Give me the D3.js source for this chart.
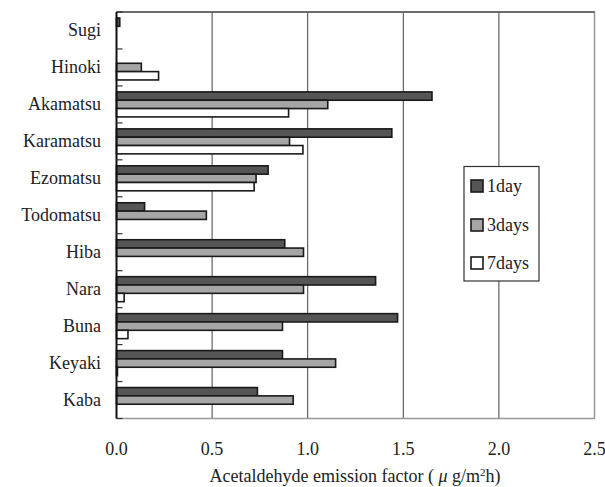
<!DOCTYPE html>
<html>
<head>
<meta charset="utf-8">
<script src="https://cdn.jsdelivr.net/npm/d3@7"></script>
<style>
body{margin:0;background:#fff;}
</style>
</head>
<body>
<div id="chart"></div>
<script>
let species = ['Sugi','Hinoki','Akamatsu','Karamatsu','Ezomatsu','Todomatsu','Hiba','Nara','Buna','Keyaki','Kaba'],
series = ['1day','3days','7days'],
day1 = [0.017, 0, 1.65, 1.44, 0.793, 0.147, 0.88, 1.355, 1.47, 0.868, 0.737],
day3 = [0, 0.13, 1.105, 0.905, 0.73, 0.47, 0.978, 0.978, 0.868, 1.146, 0.924],
day7 = [0, 0.22, 0.90, 0.975, 0.72, 0, 0, 0.04, 0.06, 0.005, 0],
xticks = [0, 0.5, 1.0, 1.5, 2.0, 2.5],
colors = ['#555555','#a6a6a6','#ffffff'];

let W = 605, H = 487,
mleft = 116.5, mright = 594.5, mtop = 12, mbottom = 418.5;

let svg = d3.select('#chart').append('svg').attr('width', W).attr('height', H)
.attr('font-family', 'Liberation Serif, Times New Roman, Tinos, DejaVu Serif, Noto Serif, serif');

let x = d3.scaleLinear().domain([0, 2.5]).range([mleft, mright]);
let y = d3.scaleBand().domain(species).range([mtop, mbottom]);
let yi = d3.scaleBand().domain(series).range([6, 31]);

let values = [day1, day3, day7];

//vertical grid lines
svg.append('g').selectAll('line').data(xticks.slice(1, -1)).enter().append('line')
.attr('x1', d=>x(d)).attr('x2', d=>x(d))
.attr('y1', mtop).attr('y2', mbottom)
.style('stroke', '#444').style('stroke-width', 1);

//frame: top, right, bottom
svg.append('path')
.attr('d', `M${mleft},${mtop}H${mright}V${mbottom}H${mleft}`)
.style('fill', 'none').style('stroke', '#999').style('stroke-width', 1.5);
svg.append('line').attr('x1', mleft).attr('x2', mright).attr('y1', mtop).attr('y2', mtop)
.style('stroke', '#555').style('stroke-width', 1.5);

//bars
series.forEach((s, k)=>{
	let rows = species.map((d, i)=>({name: d, v: values[k][i]})).filter(d=>d.v > 0);
	svg.append('g').selectAll('rect').data(rows).enter()
	.append('rect')
	.attr('x', x(0))
	.attr('y', d=>y(d.name) + yi(s))
	.attr('width', d=>x(d.v) - x(0))
	.attr('height', yi.bandwidth())
	.style('fill', colors[k])
	.style('stroke', '#1a1a1a')
	.style('stroke-width', 1.6);
});

//left axis with inner ticks
let yaxis = svg.append('g');
yaxis.append('line').attr('x1', mleft).attr('x2', mleft).attr('y1', mtop).attr('y2', mbottom)
.style('stroke', '#111').style('stroke-width', 2);
yaxis.selectAll('.tk').data(d3.range(species.length + 1)).enter().append('line')
.attr('x1', mleft).attr('x2', mleft + 6)
.attr('y1', i=>mtop + i * y.step()).attr('y2', i=>mtop + i * y.step())
.style('stroke', '#333').style('stroke-width', 1.2);
yaxis.selectAll('.lbl').data(species).enter().append('text')
.attr('x', 101)
.attr('y', d=>y(d) + y.bandwidth() / 2)
.attr('text-anchor', 'end')
.attr('dominant-baseline', 'central')
.style('font-size', '18px').style('fill', '#222')
.text(d=>d);

//x tick labels
svg.append('g').selectAll('text').data(xticks).enter().append('text')
.attr('x', d=>x(d))
.attr('y', 449)
.attr('text-anchor', 'middle')
.attr('dominant-baseline', 'central')
.style('font-size', '18px').style('fill', '#222')
.text(d=>d.toFixed(1));

//axis title
let title = svg.append('text')
.attr('x', 355).attr('y', 482)
.attr('text-anchor', 'middle')
.style('font-size', '18px').style('fill', '#222');
title.append('tspan').text('Acetaldehyde emission factor (');
title.append('tspan').style('font-style', 'italic').text(' μ');
title.append('tspan').text(' g/m');
title.append('tspan').attr('dy', -6).style('font-size', '11px').text('2');
title.append('tspan').attr('dy', 6).text('h)');

//legend
let lg = svg.append('g');
lg.append('rect').attr('x', 464).attr('y', 166.5).attr('width', 75).attr('height', 114.5)
.style('fill', '#fff').style('stroke', '#333').style('stroke-width', 1.2);
let rowsY = [186, 225, 263];
series.forEach((s, k)=>{
	lg.append('rect').attr('x', 471).attr('y', rowsY[k] - 6).attr('width', 12).attr('height', 12)
	.style('fill', colors[k]).style('stroke', '#1a1a1a').style('stroke-width', 1.6);
	lg.append('text').attr('x', 487).attr('y', rowsY[k])
	.attr('dominant-baseline', 'central')
	.style('font-size', '18px').style('fill', '#222')
	.text(s);
});
</script>
</body>
</html>
